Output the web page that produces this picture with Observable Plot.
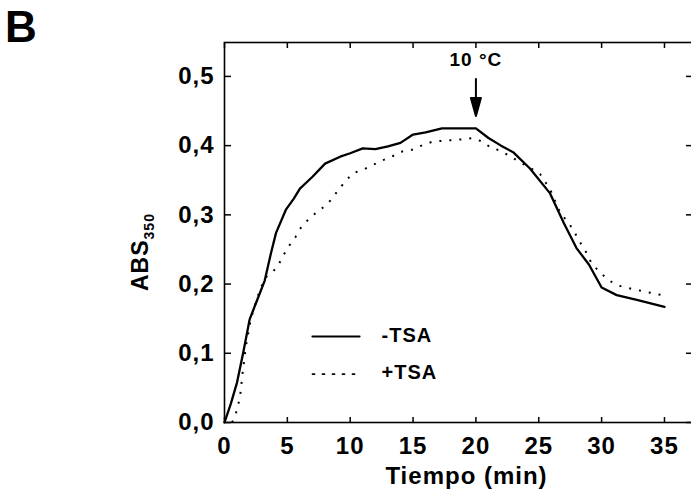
<!DOCTYPE html>
<html><head><meta charset="utf-8">
<script src="https://cdn.jsdelivr.net/npm/d3@7"></script>
<script src="https://cdn.jsdelivr.net/npm/@observablehq/plot@0.6"></script>
<style>
html,body{margin:0;padding:0;background:#fff;}
#chart svg text{letter-spacing:1px;}
</style></head><body><div id="chart"></div>
<script>
// ---- data ----
const timeMinusTSA = [0, 0.5, 1.0, 1.5, 2.0, 2.6, 3.2, 3.7, 4.1, 4.9, 5.5, 6.0, 7.0, 8.0, 9.2, 10.0, 11.0, 12.0, 13.0, 14.0, 15.0, 16.0, 17.3, 19.0, 20.0, 21.0, 22.0, 23.0, 24.3, 25.9, 27.0, 28.0, 29.0, 30.0, 31.2, 32.8, 35.0];
const absMinusTSA  = [0, 0.027, 0.058, 0.102, 0.149, 0.177, 0.205, 0.245, 0.274, 0.308, 0.323, 0.338, 0.355, 0.374, 0.384, 0.389, 0.396, 0.395, 0.399, 0.404, 0.416, 0.419, 0.425, 0.425, 0.425, 0.411, 0.400, 0.390, 0.367, 0.331, 0.288, 0.252, 0.228, 0.195, 0.184, 0.177, 0.167];
const timePlusTSA  = [0.6, 0.86, 1.07, 1.23, 1.33, 1.4, 1.5, 1.7, 2.1, 2.6, 2.9, 3.3, 4.2, 4.6, 5.05, 5.65, 6.1, 6.85, 7.6, 8.3, 8.9, 9.5, 10.2, 11.0, 11.8, 12.6, 13.4, 14.2, 14.9, 15.8, 16.6, 17.4, 18.2, 18.9, 19.7, 20.5, 21.2, 21.9, 22.7, 23.5, 24.3, 25.1, 25.9, 26.7, 27.4, 27.9, 28.3, 28.8, 29.2, 29.9, 30.7, 31.5, 32.4, 33.2, 34.0, 34.8];
const absPlusTSA   = [0, 0.010, 0.024, 0.037, 0.052, 0.066, 0.080, 0.110, 0.150, 0.180, 0.195, 0.210, 0.224, 0.239, 0.253, 0.268, 0.282, 0.297, 0.307, 0.318, 0.332, 0.346, 0.360, 0.365, 0.372, 0.379, 0.385, 0.392, 0.394, 0.401, 0.406, 0.407, 0.408, 0.409, 0.411, 0.406, 0.397, 0.393, 0.385, 0.376, 0.368, 0.359, 0.337, 0.303, 0.288, 0.273, 0.260, 0.245, 0.230, 0.216, 0.204, 0.197, 0.193, 0.190, 0.187, 0.184];
const seriesNames = ["-TSA", "+TSA"];
const xTicks = [0, 5, 10, 15, 20, 25, 30, 35];
const yTicks = [0, 0.1, 0.2, 0.3, 0.4, 0.5];
const annotationTimes = [20];
const annotationLabels = ["10 °C"];
const panelLabel = "B";
const xTitle = "Tiempo (min)";
const yTitle = "ABS";
const yTitleSub = "350";

// ---- build tables ----
const minus = timeMinusTSA.map((t, i) => ({t, a: absMinusTSA[i], s: seriesNames[0]}));
const plus = timePlusTSA.map((t, i) => ({t, a: absPlusTSA[i], s: seriesNames[1]}));
const annotations = annotationTimes.map((t, i) => ({t, label: annotationLabels[i]}));
const legendItems = seriesNames.map((name, i) => ({name, i}));

const FONT = "Liberation Sans, Arial, Helvetica, sans-serif";
const fmt = d => d.toFixed(1).replace(".", ",");
const dashes = [null, "2,8"];

const lineShape = {draw(ctx, l) { ctx.moveTo(0, 0); ctx.lineTo(0, -l); }};
const arrowShape = {draw(ctx, l) {
  ctx.moveTo(0, 0); ctx.lineTo(0, -l + 14);
  ctx.moveTo(0, -l); ctx.lineTo(-5, -l + 18); ctx.lineTo(5, -l + 18); ctx.closePath();
}};

const legendMarks = legendItems.flatMap(d => [
  Plot.vector([d], {frameAnchor: "top-left", anchor: "start", rotate: 90, length: 47,
    dx: 88, dy: 294 + d.i * 37.6, shape: lineShape, stroke: "black",
    strokeWidth: d.i === 0 ? 2.2 : 1.8, strokeDasharray: dashes[d.i]}),
  Plot.text([d], {frameAnchor: "top-left", lineAnchor: "middle", text: "name", textAnchor: "start",
    dx: 157, dy: 293.5 + d.i * 36.7, fontSize: 20, fontWeight: "bold", fill: "black"})
]);

const chart = Plot.plot({
  width: 691, height: 495,
  marginLeft: 224, marginRight: -1, marginTop: 42, marginBottom: 73,
  style: {fontFamily: FONT, color: "black", background: "white"},
  x: {domain: [0, 37.23]},
  y: {domain: [0, 0.549]},
  marks: [
    Plot.frame({stroke: "black", strokeWidth: 1.6}),
    // labels
    Plot.axisY({ticks: yTicks, anchor: "left", tickSize: 0, tickPadding: 10, tickFormat: fmt,
      fontSize: 24, fontWeight: "bold", label: null}),
    Plot.axisX({ticks: xTicks, anchor: "bottom", tickSize: 0, tickPadding: 14.5, tickFormat: d => String(d),
      fontSize: 24, fontWeight: "bold", label: null}),
    // inward ticks on all four sides
    Plot.axisY({ticks: yTicks, anchor: "right", frameAnchor: "left", tickSize: 6, fill: "none", label: null, strokeWidth: 1.5}),
    Plot.axisY({ticks: yTicks, anchor: "left", frameAnchor: "right", tickSize: 6, fill: "none", label: null, strokeWidth: 1.5}),
    Plot.axisX({ticks: xTicks, anchor: "top", frameAnchor: "bottom", tickSize: 6, fill: "none", label: null, strokeWidth: 1.5}),
    Plot.axisX({ticks: xTicks, anchor: "bottom", frameAnchor: "top", tickSize: 6, fill: "none", label: null, strokeWidth: 1.5}),
    // data
    Plot.line(plus, {x: "t", y: "a", stroke: "black", strokeWidth: 2, strokeDasharray: "2,8", strokeLinecap: "butt"}),
    Plot.line(minus, {x: "t", y: "a", stroke: "black", strokeWidth: 2.3, strokeLinejoin: "round"}),
    // annotation
    Plot.text(annotations, {x: "t", text: "label", frameAnchor: "top", lineAnchor: "middle", dy: 17,
      fontSize: 19, fontWeight: 600, fill: "black"}),
    Plot.vector(annotations, {x: "t", frameAnchor: "top", anchor: "start", rotate: 180, length: 37, dy: 36.5,
      shape: arrowShape, stroke: "black", fill: "black", strokeWidth: 2}),
    // x title
    Plot.text([xTitle], {frameAnchor: "bottom", lineAnchor: "middle", dx: 8, dy: 54,
      fontSize: 24, fontWeight: "bold", fill: "black"}),
    ...legendMarks
  ]
});

const svg = d3.select(chart);
svg.append("text")
  .attr("x", 5).attr("y", 42)
  .attr("text-anchor", "start")
  .attr("font-family", FONT).attr("font-weight", "bold").attr("font-size", 44)
  .attr("fill", "black")
  .style("letter-spacing", "0px")
  .text(panelLabel);
const yl = svg.append("text")
  .attr("transform", "translate(148,291) rotate(-90)")
  .attr("text-anchor", "start")
  .attr("font-family", FONT).attr("font-weight", "bold").attr("font-size", 23)
  .attr("fill", "black");
yl.append("tspan").text(yTitle);
yl.append("tspan").attr("font-size", 14).attr("dy", 6).text(yTitleSub);

document.getElementById("chart").appendChild(chart);
</script>
</body></html>
